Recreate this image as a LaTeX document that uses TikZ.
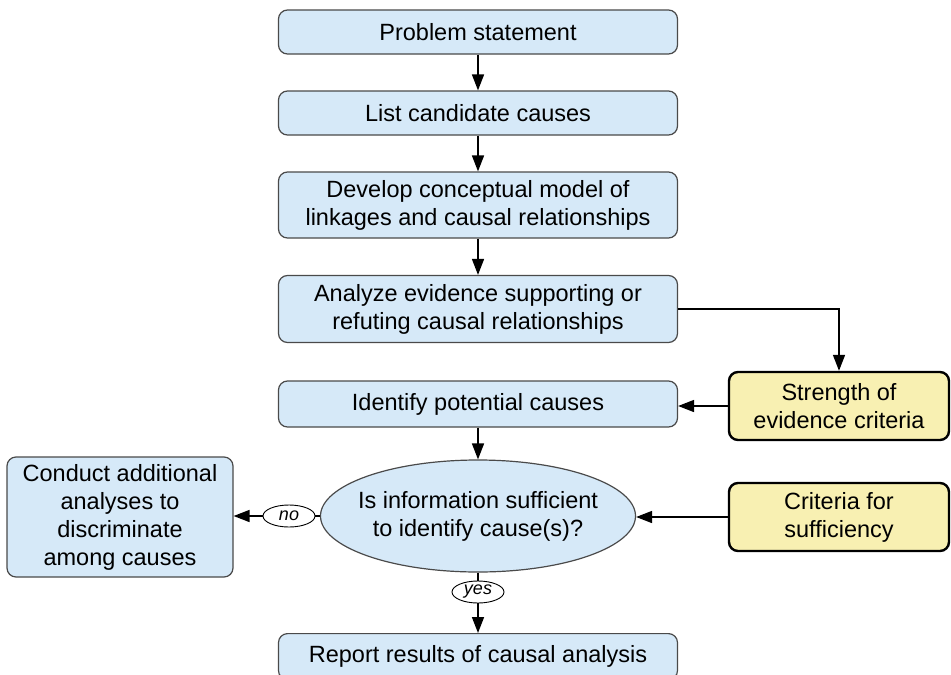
\documentclass[tikz,border=0pt]{standalone}
\usepackage{fontspec}
\setmainfont{Liberation Sans}
\usetikzlibrary{shapes.geometric,arrows.meta}
\definecolor{boxblue}{HTML}{D6E9F8}
\definecolor{boxyellow}{HTML}{F8F0B2}
\definecolor{boxline}{HTML}{4A4A4A}
\begin{document}
\begin{tikzpicture}[x=1pt,y=-1pt,
  every node/.style={font=\fontsize{23.5}{28}\selectfont, align=center, inner sep=0pt},
  bluebox/.style={draw=boxline, fill=boxblue, line width=1.2pt, rounded corners=9pt},
  mainbox/.style={bluebox, minimum width=399pt},
  yelbox/.style={draw=black, fill=boxyellow, line width=2.4pt, rounded corners=9pt, minimum width=220pt, minimum height=68pt},
  tag/.style={ellipse, draw=black, fill=white, line width=0.9pt, minimum width=52pt, minimum height=22pt, font=\fontsize{18}{20}\selectfont\itshape},
  conn/.style={line width=1.6pt, -{Triangle[width=12pt,length=16pt]}},
  plain/.style={line width=1.6pt}
]
\useasboundingbox (0,0) rectangle (951,675);
\node[mainbox, minimum height=44pt] (ps) at (478,32) {Problem statement};
\node[mainbox, minimum height=44pt] (lc) at (478,113) {List candidate causes};
\node[mainbox, minimum height=66pt] (dc) at (478,205) {Develop conceptual model of\\linkages and causal relationships};
\node[mainbox, minimum height=67pt] (an) at (478,309) {Analyze evidence supporting or\\refuting causal relationships};
\node[mainbox, minimum height=46pt] (id) at (478,404) {Identify potential causes};
\node[ellipse, draw=boxline, fill=boxblue, line width=1.2pt, minimum width=315pt, minimum height=112pt] (q) at (478,516) {};
\node (qt) at (q.center) {Is information sufficient\\to identify cause(s)?};
\node[mainbox, minimum height=46pt, anchor=north] (rep) at (478,633) {Report results of causal analysis};
\node[bluebox, minimum width=226pt, minimum height=120pt] (ca) at (120,517) {Conduct additional\\analyses to\\discriminate\\among causes};
\node[yelbox] (se) at (839,406) {Strength of\\evidence criteria};
\node[yelbox] (cs) at (839,517) {Criteria for\\sufficiency};
\node[tag] (no) at (289,516) {no};
\node[tag] (yes) at (478,592) {yes};
\draw[conn] (ps) -- (lc);
\draw[conn] (lc) -- (dc);
\draw[conn] (dc) -- (an);
\draw[conn] (an.east) -| (se.north);
\draw[conn] (se.west) -- (se.west -| id.east);
\draw[conn] (id) -- (q);
\draw[conn] (cs.west) -- (cs.west -| q.east);
\draw[plain] (q.west) -- (no.east);
\draw[conn] (no.west) -- (no.west -| ca.east);
\draw[plain] (q.south) -- (yes.north);
\draw[conn] (yes.south) -- (rep.north);
\end{tikzpicture}
\end{document}
